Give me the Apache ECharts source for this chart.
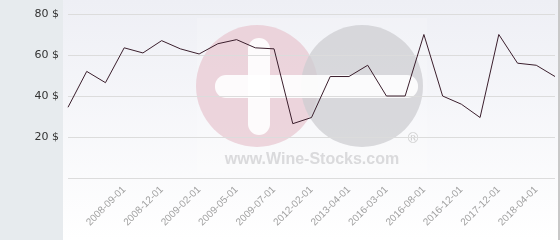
<!DOCTYPE html>
<html><head><meta charset="utf-8">
<script src="https://cdn.jsdelivr.net/npm/echarts@6/dist/echarts.min.js"></script>
<style>html,body{margin:0;padding:0;background:#fff}#c{width:560px;height:240px}</style>
</head><body><div id="c"></div>
<script>
const categories = ['2008-03-01','2008-05-01','2008-07-01','2008-09-01','2008-10-01','2008-12-01','2009-01-01','2009-02-01','2009-03-01','2009-05-01','2009-06-01','2009-07-01','2011-06-01','2012-02-01','2012-09-01','2013-04-01','2014-05-01','2016-03-01','2016-05-01','2016-08-01','2016-10-01','2016-12-01','2017-05-01','2017-12-01','2018-02-01','2018-04-01','2018-09-01'];
const prices = [34.5,52,46.5,63.5,61,67,63,60.5,65.5,67.5,63.5,63,26.5,29.5,49.5,49.5,55,40,40,70,40,36,29.5,70,56,55,49.5];
const yTicks = [0,20,40,60,80];
const watermarkText = 'www.Wine-Stocks.com';

const chart = echarts.init(document.getElementById('c'), null, {renderer:'canvas'});
chart.setOption({
  animation:false,
  grid:{left:68,right:5,top:14,bottom:62,containLabel:false},
  graphic:[
    {type:'rect',z:-20,silent:true,shape:{x:0,y:0,width:63,height:240},style:{fill:'#e7ebee'}},
    {type:'rect',z:-20,silent:true,shape:{x:63,y:0,width:495,height:240},
      style:{fill:new echarts.graphic.LinearGradient(0,0,0,1,[{offset:0,color:'#eeeff5'},{offset:1,color:'#ffffff'}])}},
    {type:'rect',z:-20,silent:true,shape:{x:558,y:0,width:2,height:240},style:{fill:'#c8c8c8'}},
    {type:'group',z:1,silent:true,children:[
      {type:'rect',shape:{x:197,y:18,width:230,height:155},style:{fill:'rgba(255,255,255,0.18)'}},
      {type:'circle',shape:{cx:257,cy:86,r:61},style:{fill:'rgba(232,200,210,0.75)'}},
      {type:'circle',shape:{cx:362,cy:86,r:61},style:{fill:'rgba(206,206,209,0.75)'}},
      {type:'rect',shape:{x:215,y:75,width:203,height:23,r:11},style:{fill:'rgba(255,255,255,0.9)'}},
      {type:'rect',shape:{x:248,y:38,width:22,height:97,r:11},style:{fill:'rgba(255,255,255,0.9)'}},
      {type:'text',style:{x:413,y:139,text:'®',fill:'rgba(200,200,200,0.85)',font:'14px "DejaVu Sans"',align:'center',verticalAlign:'middle'}},
      {type:'text',style:{x:312,y:160,text:watermarkText,fill:'rgba(212,212,214,0.85)',font:'bold 16px "Liberation Sans"',align:'center',verticalAlign:'middle'}}
    ]}
  ],
  xAxis:{type:'category',data:categories,boundaryGap:false,
    axisLine:{show:false},axisTick:{show:false},
    axisLabel:{rotate:45,interval:(i)=> i%2===1 && i>=3,color:'#a0a0a0',fontSize:10,fontFamily:'Liberation Sans',margin:10}},
  yAxis:{type:'value',min:0,max:80,interval:20,
    axisLine:{show:false},axisTick:{show:false},
    splitLine:{lineStyle:{color:'#dcdcdc',width:1}},
    axisLabel:{formatter:(v)=> yTicks.includes(v)&&v!==0 ? v+' $' : '',color:'#333',fontSize:11,fontFamily:'DejaVu Sans',margin:9}},
  series:[{type:'line',data:prices,symbol:'none',z:5,lineStyle:{color:'#3b1f2d',width:1}}]
});
</script></body></html>
